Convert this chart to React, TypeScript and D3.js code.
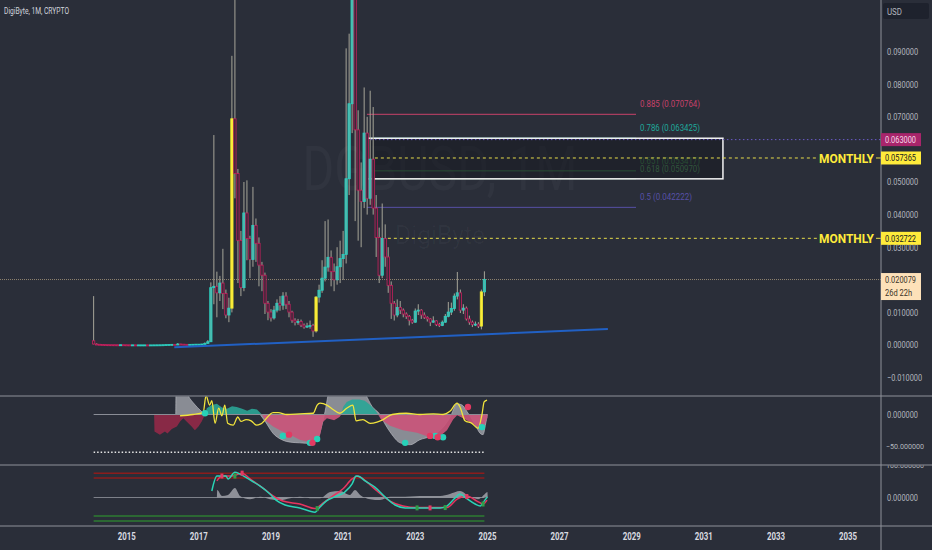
import * as d3 from 'd3';

const W = 932;
const H = 550;
const AXIS_X = 881;
const BG = '#2a2e39';
const FONT = 'Roboto, "DejaVu Sans", sans-serif';

// monthly candles, first bar Feb 2014, open of each bar = previous close
const FIRST_YEAR = 2014;
const FIRST_MONTH = 1;
const FIRST_OPEN = 0.0013;

const closes = [
  0.0003, 0.00022, 0.00018, 0.00012, 0.0001, 0.00009, 0.00008, 0.00007, 0.00006, 0.00008, 0.00006,
  0.00005, 0.00004, 0.00004, 0.00003, 0.00003, 0.00003, 0.00003, 0.00002, 0.00003, 0.00004, 0.00005, 0.00006,
  0.00008, 0.00012, 0.00015, 0.0002, 0.00018, 0.0003, 0.00025, 0.0002, 0.00018, 0.0002, 0.00022, 0.00025,
  0.00025, 0.0003, 0.0005, 0.001, 0.0176, 0.018, 0.016, 0.019, 0.0158, 0.0092, 0.0113, 0.0694,
  0.0526, 0.0321, 0.0176, 0.0405, 0.0327, 0.0262, 0.0367, 0.0312, 0.0245, 0.0214, 0.0128, 0.0101,
  0.0083, 0.0107, 0.0128, 0.0122, 0.015, 0.0125, 0.0101, 0.0076, 0.007, 0.0072, 0.0061, 0.0055,
  0.0058, 0.006, 0.0043, 0.0147, 0.0168, 0.0205, 0.0239, 0.0269, 0.0225, 0.02, 0.024, 0.0265,
  0.0278, 0.051, 0.074, 0.125, 0.066, 0.0475, 0.044, 0.065, 0.045, 0.057, 0.042, 0.033,
  0.0214, 0.0327, 0.027, 0.0183, 0.0128, 0.0092, 0.0115, 0.0107, 0.0095, 0.0088, 0.0076, 0.007,
  0.0104, 0.0107, 0.0092, 0.0085, 0.008, 0.007, 0.0074, 0.0063, 0.006, 0.007, 0.0088, 0.0101,
  0.0112, 0.015, 0.016, 0.0107, 0.0113, 0.008, 0.007, 0.0063, 0.0064, 0.0058, 0.0163, 0.020079,
];

const highs = [
  0.015, 0.0005, 0.0003, 0.00022, 0.00015, 0.00013, 0.00011, 0.0001, 0.00009, 0.00011, 0.00009,
  0.00008, 0.00006, 0.00006, 0.00005, 0.00005, 0.00005, 0.00005, 0.00004, 0.00005, 0.00006, 0.00007, 0.00008,
  0.0001, 0.00015, 0.0002, 0.0003, 0.00025, 0.0006, 0.00035, 0.00028, 0.00024, 0.00026, 0.00028, 0.0003,
  0.0003, 0.00035, 0.0008, 0.0015, 0.0192, 0.0644, 0.0225, 0.0212, 0.0295, 0.017, 0.0145, 0.0887,
  0.145, 0.054, 0.035, 0.05, 0.0505, 0.0335, 0.0485, 0.0388, 0.033, 0.0255, 0.0222, 0.0135,
  0.011, 0.012, 0.014, 0.015, 0.0162, 0.0162, 0.0135, 0.0105, 0.0082, 0.008, 0.0078, 0.0066,
  0.0068, 0.0075, 0.0065, 0.015, 0.0185, 0.026, 0.038, 0.0385, 0.029, 0.025, 0.03, 0.032,
  0.035, 0.091, 0.0955, 0.185, 0.14, 0.072, 0.056, 0.079, 0.07, 0.078, 0.073, 0.046,
  0.036, 0.0434, 0.037, 0.03, 0.0195, 0.0135, 0.014, 0.0135, 0.0112, 0.01, 0.0092, 0.008,
  0.0112, 0.0125, 0.011, 0.01, 0.0088, 0.0082, 0.0088, 0.0076, 0.0068, 0.0075, 0.0095, 0.0132,
  0.013, 0.0158, 0.0224, 0.017, 0.0125, 0.0118, 0.009, 0.0075, 0.0072, 0.007, 0.017, 0.0226,
];

const lows = [
  0.0002, 0.00018, 0.00014, 0.0001, 0.00008, 0.00007, 0.00006, 0.00005, 0.00005, 0.00005, 0.00005,
  0.00004, 0.00003, 0.00003, 0.00002, 0.00002, 0.00002, 0.00002, 0.00001, 0.00002, 0.00003, 0.00004, 0.00005,
  0.00005, 0.00007, 0.0001, 0.00014, 0.00015, 0.00016, 0.0002, 0.00017, 0.00015, 0.00016, 0.00018, 0.0002,
  0.0002, 0.00022, 0.00028, 0.00045, 0.0009, 0.0125, 0.0085, 0.0135, 0.011, 0.0082, 0.007, 0.01,
  0.045, 0.019, 0.015, 0.0165, 0.026, 0.0205, 0.024, 0.0255, 0.018, 0.0165, 0.0095, 0.0076,
  0.0072, 0.0078, 0.01, 0.0105, 0.0108, 0.011, 0.0085, 0.0068, 0.006, 0.0062, 0.0055, 0.005,
  0.0052, 0.005, 0.0025, 0.0038, 0.013, 0.016, 0.0195, 0.0225, 0.018, 0.0165, 0.0185, 0.019,
  0.02, 0.025, 0.046, 0.065, 0.038, 0.032, 0.03, 0.042, 0.04, 0.043, 0.04, 0.027,
  0.019, 0.0205, 0.024, 0.016, 0.008, 0.0075, 0.0085, 0.0095, 0.0085, 0.008, 0.006, 0.0065,
  0.0068, 0.0092, 0.008, 0.008, 0.0072, 0.0058, 0.0068, 0.0058, 0.0055, 0.0058, 0.0068, 0.0085,
  0.0092, 0.0105, 0.014, 0.0098, 0.0095, 0.0075, 0.0062, 0.0055, 0.0058, 0.0052, 0.0048, 0.015,
];

const highlightBars = ['2017-12', '2020-04', '2024-11'];

const priceTicks = [-0.01, 0, 0.01, 0.02, 0.03, 0.04, 0.05, 0.06, 0.07, 0.08, 0.09];
const yearTicks = [2015, 2017, 2019, 2021, 2023, 2025, 2027, 2029, 2031, 2033, 2035];

// fib retracement drawn on the chart
const fibLevels = [
  { ratio: '0.885', value: 0.070764 },
  { ratio: '0.786', value: 0.063425 },
  { ratio: '0.651', value: 0.053417 },
  { ratio: '0.618', value: 0.05097 },
  { ratio: '0.5', value: 0.042222 },
];
const fibStart = 2021.66;
const fibEnd = 2029.12;
const zoneEnd = 2031.53;
const zoneTop = 0.063425;
const zoneBottom = 0.05097;

const monthlyLevels = [
  { value: 0.057365, from: 2021.88 },
  { value: 0.032722, from: 2022.24 },
];
const alertLevel = { value: 0.063, from: 2021.66 };
const trendLine: [number, number][] = [
  [2016.32, -0.0007],
  [2028.34, 0.0049],
];
const barTimeLeft = '26d 22h';

// middle pane: momentum histogram pieces, wave, signal line, dots
const momentumEarly: [number, number][] = [
  [2015.76, 0], [2015.77, -27], [2015.92, -32], [2016.06, -27], [2016.13, -30], [2016.25, -23],
  [2016.39, -19], [2016.48, -11], [2016.57, -6], [2016.66, -11], [2016.8, -19], [2016.89, -25],
  [2016.99, -19], [2017.08, -11], [2017.17, 0],
];
const momentumUp2017: [number, number][] = [
  [2017.17, 0], [2017.22, 10], [2017.36, 15], [2017.5, 17], [2017.64, 11], [2017.78, 9],
  [2017.92, 13], [2018.05, 12], [2018.2, 9], [2018.34, 6], [2018.47, 9], [2018.61, 8], [2018.75, 0],
];
const momentumDown2019: [number, number][] = [
  [2018.75, 0], [2018.85, -10], [2019.06, -19], [2019.25, -25], [2019.44, -30], [2019.62, -35],
  [2019.8, -40], [2020.0, -43], [2020.17, -46], [2020.28, -40], [2020.36, -33], [2020.44, -12],
  [2020.55, -6], [2020.75, -9], [2020.9, -4], [2020.95, 0],
];
const momentumUp2021: [number, number][] = [
  [2020.95, 0], [2021.0, 12], [2021.1, 20], [2021.25, 24], [2021.45, 24], [2021.6, 22],
  [2021.75, 15], [2021.9, 6], [2021.97, 0],
];
const momentumDown2022: [number, number][] = [
  [2021.97, 0], [2022.05, -8], [2022.3, -18], [2022.66, -25], [2023.05, -29], [2023.41, -36],
  [2023.6, -38], [2023.69, -34], [2023.88, -25], [2024.05, -8], [2024.16, -1], [2024.3, -5],
  [2024.45, -10], [2024.6, -15], [2024.75, -20], [2024.88, -22], [2024.95, -12], [2025.0, -5],
];
const waveEarly: [number, number][] = [
  [2016.36, 0], [2016.37, 48], [2016.55, 48], [2016.7, 30], [2016.9, 15], [2017.17, 0],
];
const waveMain: [number, number][] = [
  [2018.7, 0], [2018.85, -12], [2019.06, -30], [2019.3, -40], [2019.55, -44], [2019.8, -45],
  [2020.1, -46], [2020.3, -38], [2020.42, -15], [2020.5, 5], [2020.58, 30], [2020.66, 48],
  [2021.3, 48], [2021.45, 45], [2021.62, 32], [2021.8, 13], [2022.02, 0], [2022.16, -15],
  [2022.33, -30], [2022.58, -45], [2022.86, -48], [2023.13, -40], [2023.41, -35], [2023.69, -25],
  [2023.96, -5], [2024.16, 17], [2024.3, 15], [2024.43, 5], [2024.66, -16], [2024.8, -30],
  [2024.88, -32], [2024.95, -15], [2025.0, 0],
];
const signalLine: [number, number][] = [
  [2016.48, -2], [2016.84, 0], [2017.12, 3], [2017.2, 30], [2017.3, 15], [2017.36, 22],
  [2017.45, -14], [2017.55, 10], [2017.64, -2], [2017.72, 15], [2017.8, -14], [2017.95, -17],
  [2018.08, -4], [2018.17, -11], [2018.31, -8], [2018.45, -10], [2018.6, -17], [2018.72, -15],
  [2019.06, 3], [2019.2, 3], [2019.44, 0], [2019.8, 1], [2020.17, 2], [2020.28, 15],
  [2020.36, 18], [2020.55, 15], [2020.72, 8], [2020.91, 2], [2021.1, 10], [2021.27, 15],
  [2021.36, -10], [2021.55, -8], [2021.75, -14], [2021.94, -12], [2022.11, -8], [2022.36, 0],
  [2022.75, 2], [2023.13, 0], [2023.5, 1], [2023.77, 0], [2023.96, 5], [2024.16, 18],
  [2024.24, 12], [2024.38, -10], [2024.57, -14], [2024.74, -22], [2024.85, 0], [2024.91, 20],
  [2024.99, 23],
];
const bullDots: [number, number][] = [
  [2017.17, 2], [2019.33, -34], [2020.08, -45], [2020.28, -39], [2022.72, -45], [2023.55, -34],
  [2023.77, -36], [2024.85, -20],
];
const bearDots: [number, number][] = [
  [2019.5, -32], [2020.15, -45], [2023.41, -34], [2023.62, -36], [2024.46, 12],
];

// lower pane: wave trend lines, histogram, crosses
const wtFast: [number, number][] = [
  [2017.36, 20], [2017.5, 66], [2017.75, 66], [2017.81, 57], [2018.0, 78], [2018.14, 72],
  [2018.42, 54], [2018.7, 35], [2018.97, 11], [2019.14, -8], [2019.39, -23], [2019.8, -32],
  [2020.22, -45], [2020.36, -29], [2020.53, -11], [2020.77, 2], [2021.05, 17], [2021.25, 42],
  [2021.36, 66], [2021.47, 63], [2021.61, 51], [2021.88, 32], [2022.16, 2], [2022.44, -23],
  [2022.72, -32], [2023.13, -32], [2023.69, -32], [2023.83, -29], [2024.1, -2], [2024.24, 11],
  [2024.41, -2], [2024.66, -20], [2024.8, -26], [2024.93, -8], [2025.0, 2],
];
const wtSlow: [number, number][] = [
  [2017.5, 51], [2017.64, 66], [2017.92, 66], [2018.2, 75], [2018.42, 57], [2018.78, 29],
  [2019.06, 5], [2019.33, -11], [2019.8, -20], [2020.22, -34], [2020.44, -17], [2020.72, 5],
  [2020.99, 26], [2021.25, 57], [2021.41, 66], [2021.55, 57], [2021.94, 20], [2022.3, -11],
  [2022.66, -26], [2023.05, -31], [2023.88, -31], [2024.16, -5], [2024.43, 5], [2024.71, -11],
  [2024.88, -20], [2024.99, -8],
];
const wtHist: [number, number][] = [
  [2017.5, 0], [2017.51, 23], [2017.64, 5], [2017.81, 8], [2018.0, 29], [2018.14, 5], [2018.42, -5],
  [2018.7, 2], [2018.97, -5], [2019.25, -8], [2019.53, -2], [2019.8, 2], [2020.08, -2], [2020.36, -2],
  [2020.64, 17], [2020.91, 20], [2021.19, 8], [2021.33, 23], [2021.47, 8], [2021.75, -5], [2022.02, -8],
  [2022.3, 2], [2022.58, 2], [2023.13, 5], [2023.69, 5], [2023.96, 11], [2024.24, 20], [2024.52, 2],
  [2024.74, -5], [2024.93, 11], [2025.0, 17], [2025.01, 0],
];
const wtBullCross: [number, number][] = [
  [2018.0, 66], [2020.28, -34], [2023.05, -32], [2023.83, -31], [2024.88, -20],
];
const wtBearCross: [number, number][] = [
  [2017.64, 66], [2018.2, 75], [2023.41, -32], [2024.43, 3],
];
const overbought = [75, 60];
const oversold = [-57, -72];

type Bar = { t: number; key: string; o: number; h: number; l: number; c: number };

const bars: Bar[] = closes.map((c, i) => {
  const m = FIRST_MONTH + i;
  const year = FIRST_YEAR + Math.floor(m / 12);
  const month = m % 12;
  return {
    t: year + month / 12,
    key: `${year}-${String(month + 1).padStart(2, '0')}`,
    o: i === 0 ? FIRST_OPEN : closes[i - 1],
    h: highs[i],
    l: lows[i],
    c,
  };
});

const x = d3.scaleLinear().domain([2015, 2035]).range([126.7, 848.1]);
const y = d3.scaleLinear().domain([-0.01534, 0.10583]).range([395, 0]);
const y2 = d3.scaleLinear().domain([-50, 0]).range([446, 414.5]);
const y3 = d3.scaleLinear().domain([0, 100]).range([497.5, 465]);

const fmt = (v: number) => (v < 0 ? '−' : '') + Math.abs(v).toFixed(6);

const fibColor: Record<string, string> = {
  '0.885': '#c8416a',
  '0.786': '#1fa89a',
  '0.651': '#3a7d48',
  '0.618': '#4b8b57',
  '0.5': '#5750a6',
};

function Label({ x: lx, y: ly, text, fill = '#b2b5be', size = 9.5, w, anchor = 'start', weight = 400 }: any) {
  return (
    <text
      x={lx}
      y={ly}
      fill={fill}
      fontSize={size}
      fontWeight={weight}
      fontFamily={FONT}
      textAnchor={anchor}
      textLength={w}
      lengthAdjust="spacingAndGlyphs"
    >
      {text}
    </text>
  );
}

export default function App() {
  const t0 = bars[0].t;
  const t1 = bars[bars.length - 1].t;
  const last = bars[bars.length - 1];

  // axis labels that sit mostly under a price tag are hidden, as on the platform
  const tagSpans: [number, number][] = [
    [y(alertLevel.value) - 6.5, y(alertLevel.value) + 6.5],
    ...monthlyLevels.map((m) => [y(m.value) - 6.5, y(m.value) + 6.5] as [number, number]),
    [y(last.c) - 6.5, y(last.c) + 20.5],
  ];
  const visibleTicks = priceTicks.filter((v) => {
    const a = y(v) - 4;
    const b = y(v) + 4;
    const covered = tagSpans.reduce((s, [ta, tb]) => s + Math.max(0, Math.min(b, tb) - Math.max(a, ta)), 0);
    return covered < 2;
  });

  const area2 = d3
    .area<[number, number]>()
    .x((d) => x(d[0]))
    .y0(y2(0))
    .y1((d) => y2(d[1]));
  const area2Smooth = d3
    .area<[number, number]>()
    .x((d) => x(d[0]))
    .y0(y2(0))
    .y1((d) => y2(d[1]))
    .curve(d3.curveMonotoneX);
  const line2 = d3
    .line<[number, number]>()
    .x((d) => x(d[0]))
    .y((d) => y2(d[1]))
    .curve(d3.curveMonotoneX);
  const line3 = d3
    .line<[number, number]>()
    .x((d) => x(d[0]))
    .y((d) => y3(d[1]))
    .curve(d3.curveMonotoneX);
  const area3 = d3
    .area<[number, number]>()
    .x((d) => x(d[0]))
    .y0(y3(0))
    .y1((d) => y3(d[1]))
    .curve(d3.curveMonotoneX);

  const bodyW = 2.3;

  return (
    <svg
      width={W}
      height={H}
      viewBox={`0 0 ${W} ${H}`}
      style={{ position: 'fixed', left: 0, top: 0, display: 'block', background: BG }}
    >
      <defs>
        <clipPath id="main-pane">
          <rect x={0} y={0} width={AXIS_X} height={396} />
        </clipPath>
        <clipPath id="osc-pane">
          <rect x={0} y={396.5} width={AXIS_X} height={68} />
        </clipPath>
        <clipPath id="wt-pane">
          <rect x={0} y={465.5} width={AXIS_X} height={60} />
        </clipPath>
        <clipPath id="wt-axis">
          <rect x={AXIS_X} y={465.5} width={W - AXIS_X} height={60} />
        </clipPath>
      </defs>
      <rect x={0} y={0} width={W} height={H} fill={BG} />

      {/* title + watermark */}
      <Label x={4} y={14} text="DigiByte, 1M, CRYPTO" fill="#d1d4dc" size={9.5} w={65} />
      <text
        x={440}
        y={190}
        fill="rgba(255,255,255,0.03)"
        fontSize={62}
        fontFamily={FONT}
        textAnchor="middle"
        textLength={275}
        lengthAdjust="spacingAndGlyphs"
      >
        DGBUSD, 1M
      </text>
      <text
        x={440}
        y={244}
        fill="rgba(255,255,255,0.03)"
        fontSize={26}
        fontFamily={FONT}
        textAnchor="middle"
        textLength={90}
        lengthAdjust="spacingAndGlyphs"
      >
        DigiByte
      </text>

      <g clipPath="url(#main-pane)">
        {/* fib lines */}
        {fibLevels.map((f) => (
          <g key={f.ratio}>
            <line
              x1={x(fibStart)}
              x2={x(fibEnd)}
              y1={y(f.value)}
              y2={y(f.value)}
              stroke={fibColor[f.ratio]}
              strokeWidth={1}
            />
            <Label
              x={x(fibEnd) + 4}
              y={y(f.value) - 7}
              text={`${f.ratio} (${f.value.toFixed(6)})`}
              fill={fibColor[f.ratio]}
              size={9}
              w={f.ratio.length === 3 ? 52 : 60}
            />
          </g>
        ))}
        <rect
          x={x(fibStart)}
          y={y(zoneTop)}
          width={x(zoneEnd) - x(fibStart)}
          height={y(zoneBottom) - y(zoneTop)}
          fill="rgba(18,20,26,0.45)"
          stroke="#f2f2f2"
          strokeWidth={1.5}
        />
        <line
          x1={x(alertLevel.from)}
          x2={AXIS_X}
          y1={y(alertLevel.value)}
          y2={y(alertLevel.value)}
          stroke="#6b5cc8"
          strokeWidth={1}
          strokeDasharray="1.5 2.5"
        />
        {monthlyLevels.map((m) => (
          <g key={m.value}>
            <line
              x1={x(m.from)}
              x2={AXIS_X - 64}
              y1={y(m.value)}
              y2={y(m.value)}
              stroke="#e6dc4a"
              strokeWidth={1}
              strokeDasharray="3 3"
            />
            <line
              x1={AXIS_X - 5}
              x2={AXIS_X}
              y1={y(m.value)}
              y2={y(m.value)}
              stroke="#e6dc4a"
              strokeWidth={1}
            />
            <Label
              x={AXIS_X - 62}
              y={y(m.value) + 5}
              text="MONTHLY"
              fill="#ffeb3b"
              size={13}
              w={55}
              weight={700}
            />
          </g>
        ))}

        {/* last price line */}
        <line
          x1={0}
          x2={AXIS_X}
          y1={y(last.c)}
          y2={y(last.c)}
          stroke="#8f846f"
          strokeWidth={1}
          strokeDasharray="1 1"
        />

        {/* candles */}
        {bars.map((b) => {
          const cx = x(b.t);
          const up = b.c >= b.o;
          const hl = highlightBars.includes(b.key);
          const top = y(Math.max(b.o, b.c));
          const h = Math.max(1, y(Math.min(b.o, b.c)) - top);
          const fill = hl ? '#ffeb3b' : up ? '#52b6ab' : '#2e2a36';
          const stroke = hl ? '#eaea30' : up ? '#28d2c2' : '#c8205e';
          return (
            <g key={b.key}>
              <line x1={cx} x2={cx} y1={y(b.h)} y2={y(b.l)} stroke="#a6a598" strokeWidth={1} />
              <rect
                x={cx - bodyW / 2}
                y={top}
                width={bodyW}
                height={h}
                fill={fill}
                stroke={stroke}
                strokeWidth={0.8}
              />
            </g>
          );
        })}

        {/* trend line */}
        <line
          x1={x(trendLine[0][0])}
          y1={y(trendLine[0][1])}
          x2={x(trendLine[1][0])}
          y2={y(trendLine[1][1])}
          stroke="#2160c4"
          strokeWidth={2}
        />
      </g>

      {/* oscillator pane */}
      <g clipPath="url(#osc-pane)">
        <path d={area2Smooth(waveEarly) ?? ''} fill="#9a9ca4" fillOpacity={0.85} stroke="#c3c5cb" strokeWidth={0.6} />
        <path d={area2Smooth(waveMain) ?? ''} fill="#9a9ca4" fillOpacity={0.85} stroke="#c3c5cb" strokeWidth={0.6} />
        <path d={area2(momentumEarly) ?? ''} fill="#8d2947" fillOpacity={0.95} />
        <path d={area2(momentumUp2017) ?? ''} fill="#2aa596" fillOpacity={0.9} />
        <path d={area2(momentumDown2019) ?? ''} fill="#c9557a" fillOpacity={0.92} />
        <path d={area2(momentumUp2021) ?? ''} fill="#2aa596" fillOpacity={0.9} />
        <path d={area2(momentumDown2022) ?? ''} fill="#c9557a" fillOpacity={0.92} />
        <line x1={x(t0)} x2={x(t1)} y1={y2(0)} y2={y2(0)} stroke="#8a8d96" strokeWidth={1} />
        <line
          x1={x(t0)}
          x2={x(t1)}
          y1={y2(-60)}
          y2={y2(-60)}
          stroke="#e6e6e6"
          strokeWidth={1.5}
          strokeDasharray="1.5 2"
        />
        <path d={line2(signalLine) ?? ''} fill="none" stroke="#f2e43c" strokeWidth={1.3} />
        {bullDots.map((d, i) => (
          <circle key={`b${i}`} cx={x(d[0])} cy={y2(d[1])} r={3.2} fill="#27d1b8" />
        ))}
        {bearDots.map((d, i) => (
          <circle key={`s${i}`} cx={x(d[0])} cy={y2(d[1])} r={3.2} fill="#e23a62" />
        ))}
      </g>

      {/* wave trend pane */}
      <g clipPath="url(#wt-pane)">
        {overbought.map((v) => (
          <line key={v} x1={x(t0)} x2={x(t1)} y1={y3(v)} y2={y3(v)} stroke="#8c1c1c" strokeWidth={1.5} />
        ))}
        {oversold.map((v) => (
          <line key={v} x1={x(t0)} x2={x(t1)} y1={y3(v)} y2={y3(v)} stroke="#2e7d32" strokeWidth={1.5} />
        ))}
        <line x1={x(t0)} x2={x(t1)} y1={y3(0)} y2={y3(0)} stroke="#7d8089" strokeWidth={1} />
        <path d={area3(wtHist) ?? ''} fill="#a7a9b0" fillOpacity={0.8} />
        <path d={line3(wtSlow) ?? ''} fill="none" stroke="#e8345f" strokeWidth={1.5} />
        <path d={line3(wtFast) ?? ''} fill="none" stroke="#2ad4b6" strokeWidth={1.5} />
        {wtBullCross.map((d, i) => (
          <rect key={`g${i}`} x={x(d[0]) - 1.5} y={y3(d[1]) - 2.5} width={3} height={5} fill="#2e9e48" />
        ))}
        {wtBearCross.map((d, i) => (
          <rect key={`r${i}`} x={x(d[0]) - 1.5} y={y3(d[1]) - 2.5} width={3} height={5} fill="#e23a62" />
        ))}
      </g>

      {/* pane separators and axis border */}
      {[396, 465, 526].map((sy) => (
        <line key={sy} x1={0} x2={W} y1={sy} y2={sy} stroke="#8e919a" strokeWidth={1} />
      ))}
      <line x1={AXIS_X} x2={AXIS_X} y1={0} y2={H} stroke="#8e919a" strokeWidth={1} />

      {/* price axis */}
      <rect x={883} y={3} width={46} height={16} rx={2} fill="#1e222d" />
      <Label x={887} y={15} text="USD" size={9.5} w={15} />
      {visibleTicks.map((v) => {
        const s = fmt(v);
        return <Label key={v} x={887} y={y(v) + 3.5} text={s} w={s.length * 3.9} />;
      })}
      <Label x={887} y={y2(0) + 3.5} text={fmt(0)} w={31} />
      <Label x={886} y={y2(-50) + 3.3} text={fmt(-50)} size={8} w={38} />
      <g clipPath="url(#wt-axis)">
        <Label x={886} y={y3(100) + 3.3} text={fmt(100)} size={8} w={38} />
      </g>
      <Label x={887} y={y3(0) + 3.5} text={fmt(0)} w={31} />

      {/* price tags */}
      <rect x={AXIS_X} y={y(alertLevel.value) - 6.5} width={40} height={13} fill="#a8256b" />
      <Label x={885} y={y(alertLevel.value) + 3.5} text={alertLevel.value.toFixed(6)} fill="#f6dcea" w={31} />
      {monthlyLevels.map((m) => (
        <g key={`tag${m.value}`}>
          <rect x={AXIS_X} y={y(m.value) - 6.5} width={40} height={13} fill="#ffeb3b" />
          <Label x={885} y={y(m.value) + 3.5} text={m.value.toFixed(6)} fill="#131722" w={31} />
        </g>
      ))}
      <rect x={AXIS_X} y={y(last.c) - 6.5} width={40} height={27} fill="#fde1b9" />
      <Label x={885} y={y(last.c) + 3.5} text={last.c.toFixed(6)} fill="#3b3327" w={31} />
      <Label x={885} y={y(last.c) + 16} text={barTimeLeft} fill="#3b3327" w={27} />

      {/* time axis */}
      {yearTicks.map((yr) => (
        <Label
          key={yr}
          x={x(yr)}
          y={540}
          text={String(yr)}
          fill="#d9dbe0"
          size={10}
          w={18}
          anchor="middle"
          weight={700}
        />
      ))}
    </svg>
  );
}
